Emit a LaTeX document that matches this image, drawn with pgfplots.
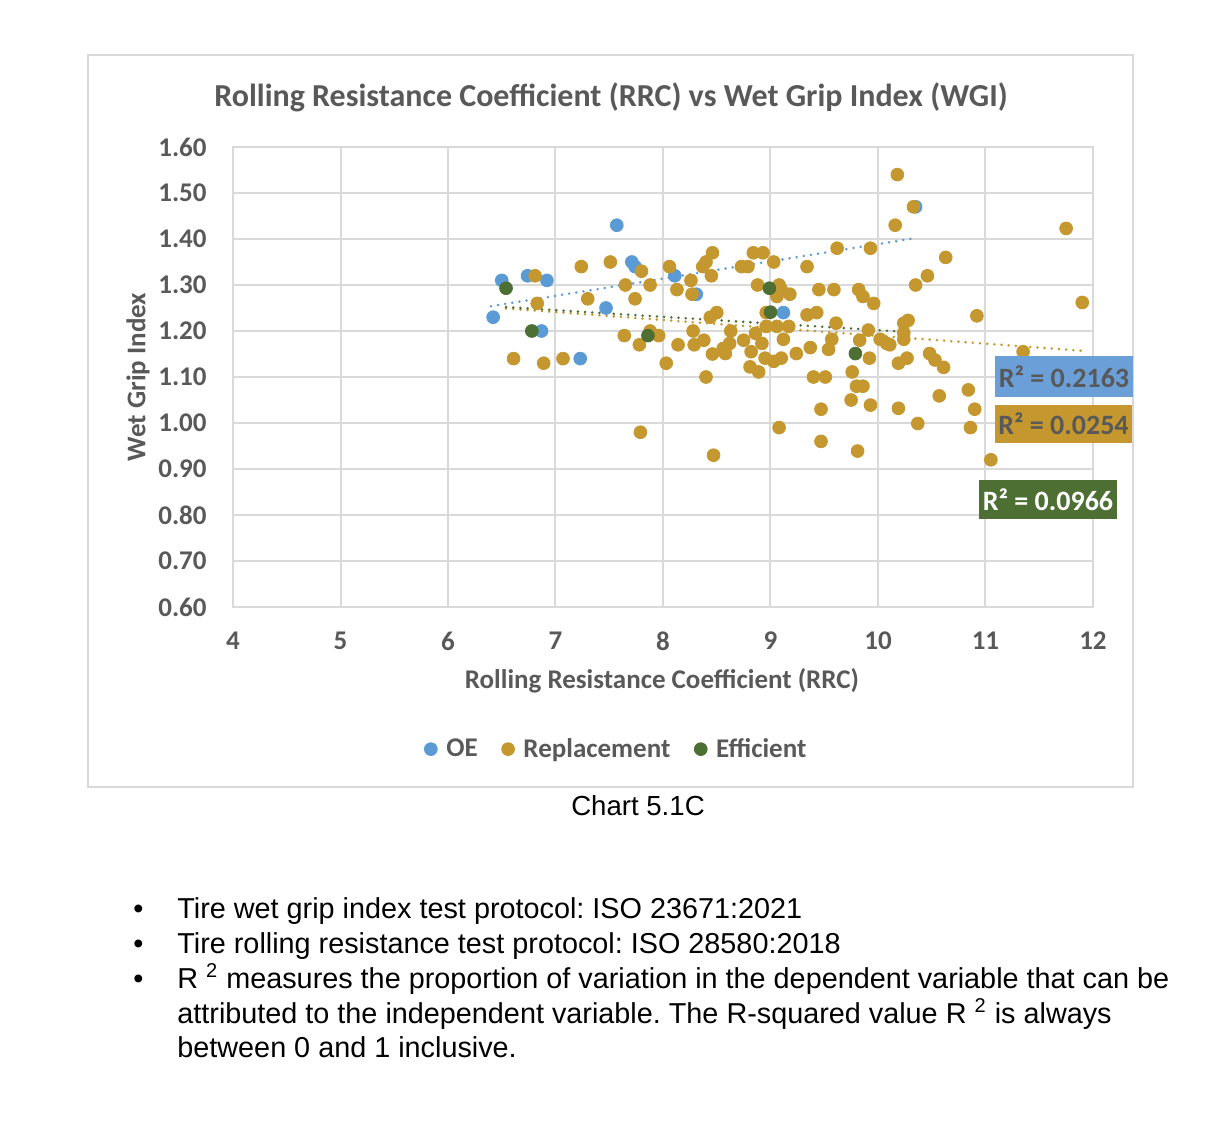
\documentclass[border=0pt]{standalone}
\usepackage{pgfplots}
\pgfplotsset{compat=1.18}
\usepackage{fontspec}
\setmainfont{Carlito}
\newfontfamily\arialf{Liberation Sans}
\definecolor{textgray}{HTML}{595959}
\definecolor{gridgray}{HTML}{D9D9D9}
\definecolor{bordergray}{HTML}{D9D9D9}
\definecolor{oeblue}{HTML}{5B9BD5}
\definecolor{repgold}{HTML}{C4982F}
\definecolor{effgreen}{HTML}{4E6F33}
\definecolor{boxblue}{HTML}{6A9FD8}
\definecolor{boxgold}{HTML}{C4982F}
\definecolor{boxgreen}{HTML}{4E6F33}
\frenchspacing
\begin{document}
\begin{tikzpicture}[x=0.5pt,y=0.5pt]
\path[fill=white,use as bounding box] (0,0) rectangle (1206,-1123);
\draw[bordergray,line width=1.2pt] (88,-55) rectangle (1133,-787);
\begin{axis}[
  at={(116.5pt,-303.5pt)}, anchor=south west,
  scale only axis, width=430pt, height=230pt,
  xmin=4, xmax=12, ymin=0.6, ymax=1.6,
  xtick={4,5,...,12}, ytick={0.6,0.7,...,1.6},
  grid=major, grid style={gridgray,line width=1pt},
  axis line style={gridgray,line width=1pt},
  major tick length=0pt,
  /pgf/number format/assume math mode=true,
  xticklabel style={font=\bfseries\fontsize{13.5}{16}\selectfont, text=textgray, anchor=center, inner sep=0pt, yshift=-17pt},
  yticklabel style={font=\bfseries\fontsize{13.5}{16}\selectfont, text=textgray, anchor=east, inner sep=0pt, xshift=-13pt,
     /pgf/number format/fixed, /pgf/number format/fixed zerofill, /pgf/number format/precision=2},
  legend columns=3,
  legend style={at={(0.447,-0.309)}, anchor=center, draw=none, fill=none,
     font=\bfseries\fontsize{13.5}{16}\selectfont, text=textgray,
     /tikz/every odd column/.append style={column sep=2.5pt},
     /tikz/every even column/.append style={column sep=10pt}},
  legend image code/.code={\draw[#1] plot coordinates {(0pt,0pt)};},
  clip=false,
]
\addplot[only marks, mark=*, mark size=3.2pt, color=oeblue] coordinates {
(7.57,1.43) (6.50,1.31) (6.74,1.32) (6.92,1.31) (6.42,1.23) (6.87,1.20) (7.23,1.14)
(7.47,1.25) (7.71,1.35) (7.74,1.34) (8.11,1.32) (8.31,1.28) (9.12,1.24) (10.35,1.47)
};
\addlegendentry{OE}
\addplot[only marks, mark=*, mark size=3.2pt, color=repgold] coordinates {
(6.81,1.32) (6.83,1.26) (6.61,1.14) (6.89,1.13) (7.07,1.14) (7.24,1.34) (7.30,1.27)
(7.51,1.35) (7.65,1.30) (7.80,1.33) (7.74,1.27) (7.88,1.30) (7.64,1.19) (7.78,1.17)
(7.88,1.20) (7.96,1.19) (7.79,0.98) (8.03,1.13) (8.06,1.34) (8.13,1.29) (8.26,1.31)
(8.27,1.28) (8.14,1.17) (8.28,1.20) (8.29,1.17) (8.38,1.18) (8.40,1.10) (8.46,1.15)
(8.47,0.93) (8.46,1.37) (8.40,1.35) (8.37,1.34) (8.45,1.32) (8.44,1.23) (8.50,1.24)
(10.18,1.54) (10.33,1.47) (10.16,1.43) (10.63,1.36) (10.46,1.32) (10.35,1.30)
(8.84,1.37) (8.93,1.37) (9.03,1.35) (8.73,1.34) (8.79,1.34) (9.34,1.34) (9.62,1.38)
(9.93,1.38) (8.88,1.30) (9.08,1.30) (9.10,1.29) (9.06,1.275) (9.18,1.28) (9.45,1.29)
(9.59,1.29) (9.82,1.29) (9.86,1.275) (9.96,1.26) (8.96,1.24) (9.34,1.235) (9.43,1.24)
(8.96,1.21) (9.06,1.21) (9.17,1.21) (9.61,1.217) (8.63,1.20) (8.75,1.18) (8.86,1.195)
(8.92,1.173) (9.12,1.182) (8.62,1.173) (8.56,1.162) (8.58,1.151) (8.82,1.155)
(8.95,1.141) (9.03,1.134) (9.10,1.141) (9.24,1.151) (9.37,1.164) (8.81,1.122)
(8.89,1.111) (9.54,1.16) (9.57,1.182) (9.83,1.18) (9.92,1.141) (9.91,1.202)
(10.02,1.182) (10.11,1.17) (10.08,1.173) (10.24,1.217) (10.28,1.223) (10.24,1.196)
(10.24,1.182) (10.19,1.13) (10.27,1.141) (10.48,1.151) (10.53,1.137) (10.61,1.121)
(9.40,1.10) (9.51,1.10) (9.76,1.111) (9.80,1.08) (9.86,1.08) (9.75,1.05) (9.93,1.039)
(9.47,1.03) (10.19,1.032) (10.57,1.059) (10.37,0.999) (9.08,0.99) (9.47,0.96)
(9.81,0.939) (11.75,1.423) (11.90,1.262) (10.92,1.233) (11.35,1.155) (10.84,1.072)
(10.90,1.03) (10.86,0.99) (11.05,0.92)
};
\addlegendentry{Replacement}
\addplot[only marks, mark=*, mark size=3.2pt, color=effgreen] coordinates {
(6.54,1.293) (6.78,1.20) (7.86,1.19) (8.99,1.293) (9.00,1.241) (9.79,1.151)
};
\addlegendentry{Efficient}
% trend lines
\addplot[forget plot, oeblue, line width=1.4pt, line cap=round, dash pattern=on 0pt off 3.6pt] coordinates {(6.40,1.254) (10.32,1.401)};
\addplot[forget plot, repgold, line width=1.4pt, line cap=round, dash pattern=on 0pt off 3.6pt] coordinates {(6.54,1.249) (11.90,1.157)};
\addplot[forget plot, effgreen, line width=1.4pt, line cap=round, dash pattern=on 0pt off 3.6pt] coordinates {(6.54,1.252) (10.19,1.199)};
\end{axis}
% title and labels
\node[text=textgray, font=\bfseries\fontsize{16}{19}\selectfont] at (611,-97) {Rolling Resistance Coefficient (RRC) vs Wet Grip Index (WGI)};
\node[text=textgray, font=\bfseries\fontsize{13.5}{16}\selectfont] at (662,-681) {Rolling Resistance Coefficient (RRC)};
\node[text=textgray, font=\bfseries\fontsize{13.5}{16}\selectfont, rotate=90] at (138,-377) {Wet Grip Index};
% R^2 boxes
\node[fill=boxblue, text=textgray, font=\bfseries\fontsize{14}{16}\selectfont, minimum width=69pt, minimum height=20.5pt, inner sep=0pt] at (1064,-376.5) {R² = 0.2163};
\node[fill=boxgold, text=textgray, font=\bfseries\fontsize{14}{16}\selectfont, minimum width=68.5pt, minimum height=19pt, inner sep=0pt] at (1063.5,-424) {R² = 0.0254};
\node[fill=boxgreen, text=white, font=\bfseries\fontsize{14}{16}\selectfont, minimum width=69pt, minimum height=19.5pt, inner sep=0pt] at (1048,-499.5) {R² = 0.0966};
% caption
\node[font=\arialf\fontsize{13.8}{16}\selectfont] at (638,-806) {Chart 5.1C};
% bullets
\begin{scope}[every node/.style={font=\arialf\fontsize{14.4}{17}\selectfont, inner sep=0pt, anchor=base west}]
\node at (133,-918) {•};
\node at (133,-953) {•};
\node at (133,-988) {•};
\node at (177,-918) {Tire wet grip index test protocol: ISO 23671:2021};
\node at (177,-953) {Tire rolling resistance test protocol: ISO 28580:2018};
\node at (177,-988) {R \textsuperscript{2} measures the proportion of variation in the dependent variable that can be};
\node at (177,-1023) {attributed to the independent variable. The R-squared value R \textsuperscript{2} is always};
\node at (177,-1057) {between 0 and 1 inclusive.};
\end{scope}
\end{tikzpicture}
\end{document}
